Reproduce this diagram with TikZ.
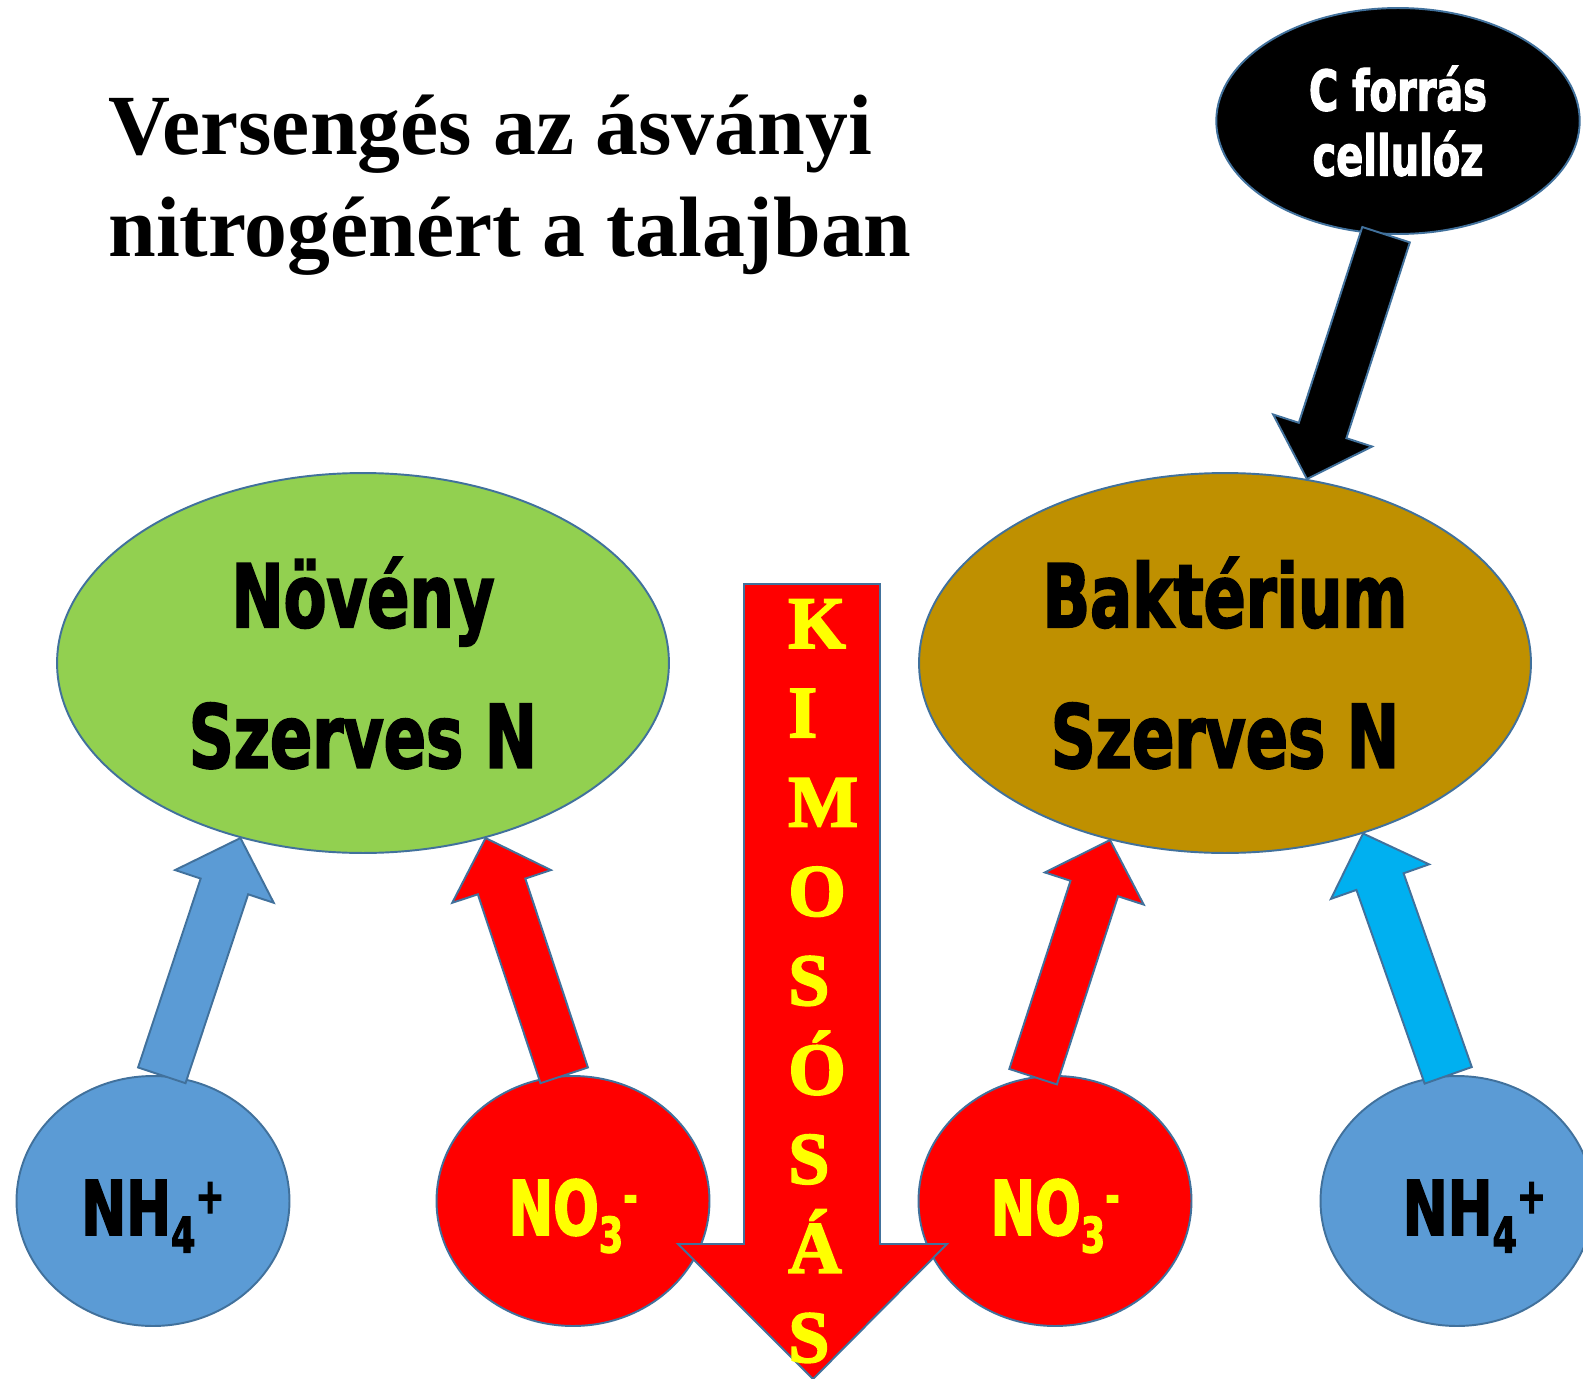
\documentclass[tikz,border=0pt]{standalone}
\usepackage{fontspec}
\setmainfont{Liberation Serif}
\newfontfamily\vastag{DejaVu Sans}[FakeStretch=0.71, BoldFeatures={FakeBold=2}]
\newfontfamily\betuk{Liberation Serif}[BoldFeatures={FakeBold=2.5}]
\usetikzlibrary{positioning,shapes.geometric,calc}

\definecolor{keret}{HTML}{41719C}
\definecolor{zold}{HTML}{92D050}
\definecolor{barna}{HTML}{BF9000}
\definecolor{kek}{HTML}{5B9BD5}
\definecolor{vilagoskek}{HTML}{00B0F0}
\definecolor{piros}{HTML}{FF0000}
\definecolor{sarga}{HTML}{FFFF00}

% also es felso index az ionokhoz
\newcommand{\alsoindex}[1]{\raisebox{-10pt}{\fontsize{28}{28}\selectfont #1}}
\newcommand{\felsoindex}[1]{\raisebox{12.5pt}{\fontsize{28}{28}\selectfont #1}}

% vastag nyil: #1 szin, #2 honnan, #3 hova
\newcommand{\vastagnyil}[3]{%
  \coordinate (nyA) at (#2);
  \coordinate (nyB) at (#3);
  \coordinate (nyH) at ($(nyB)!1.02cm!(nyA)$);
  \draw[nyil, fill=#1]
    ($(nyA)!0.5cm!90:(nyB)$) -- ($(nyH)!0.5cm!90:(nyB)$) -- ($(nyH)!1.04cm!90:(nyB)$)
    -- (nyB)
    -- ($(nyH)!1.04cm!-90:(nyB)$) -- ($(nyH)!0.5cm!-90:(nyB)$) -- ($(nyA)!0.5cm!-90:(nyB)$)
    -- cycle;
}

\begin{document}
\begin{tikzpicture}[
    x=0.02cm, y=-0.02cm,
    ellipszis/.style={
        ellipse,
        draw=keret,
        line width=1.1pt,
        inner sep=0pt
    },
    szervezet/.style={
        ellipszis,
        minimum width=12.24cm,
        minimum height=7.6cm,
        align=center,
        font=\vastag\bfseries\fontsize{50}{80}\selectfont
    },
    ion/.style={
        ellipszis,
        minimum width=5.46cm,
        minimum height=5cm,
        text height=1.5cm,
        text depth=0.14cm,
        font=\vastag\bfseries\fontsize{43}{43}\selectfont
    },
    nyil/.style={draw=keret, line width=1.1pt, line join=miter}
]
\useasboundingbox[fill=white] (0,0) rectangle (1583,1379);

\node[anchor=base west, align=left, inner sep=0pt,
      font=\bfseries\fontsize{48.8}{57.8}\selectfont] (cim) at (108,256)
{Versengés az ásványi\\nitrogénért a talajban};

\node[szervezet, fill=zold] (noveny) at (363,663) {Növény\\Szerves N};
\node[szervezet, fill=barna] (bakterium) at (1225,663) {Baktérium\\Szerves N};

\node[ellipszis, fill=black, text=white, minimum width=7.27cm, minimum height=4.52cm,
      align=center, font=\vastag\bfseries\fontsize{32}{37}\selectfont] (forras) at (1398,121)
{C forrás\\cellulóz};

\node[ion, fill=kek] (nhbal) at (153,1201) {NH\alsoindex{4}\felsoindex{+}};
\node[ion, fill=piros, text=sarga] (nobal) at (573,1201) {NO\alsoindex{3}\felsoindex{-}};
\node[ion, fill=piros, text=sarga] (nojobb) at (1055,1201) {NO\alsoindex{3}\felsoindex{-}};
\node[ion, fill=kek] (nhjobb) at (1457,1201) {\hspace*{0.7cm}NH\alsoindex{4}\felsoindex{+}};

\vastagnyil{kek}{nhbal.86}{noveny.-125}
\vastagnyil{piros}{nobal.94}{noveny.-55}
\vastagnyil{piros}{nojobb.100}{bakterium.-123}
\vastagnyil{vilagoskek}{nhjobb.94}{bakterium.-51}
\vastagnyil{black}{forras.-96}{bakterium.66}

% kimosas
\draw[nyil, fill=piros] (744,584) -- (880,584) -- (880,1244) -- (947,1244)
    -- (813,1379) -- (678,1244) -- (744,1244) -- cycle;
\node[anchor=base west, align=left, inner sep=0pt, text=sarga,
      font=\betuk\bfseries\fontsize{42}{50.8}\selectfont] (kimosas) at (788,1362)
{K\\I\\M\\O\\S\\Ó\\S\\Á\\S};

\end{tikzpicture}
\end{document}
